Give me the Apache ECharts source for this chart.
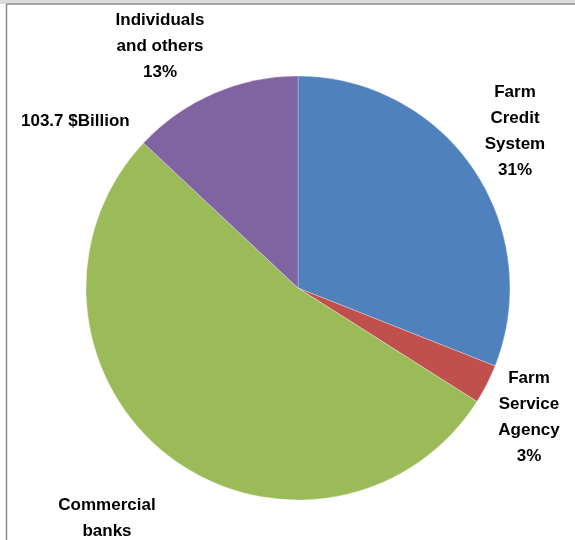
<!DOCTYPE html>
<html>
<head>
<meta charset="utf-8">
<script src="https://cdn.jsdelivr.net/npm/echarts@6/dist/echarts.min.js"></script>
<style>html,body{margin:0;padding:0;background:#fff}#c{width:575px;height:540px}</style>
</head>
<body>
<div id="c"></div>
<script>
const categories = ['Farm\nCredit\nSystem', 'Farm\nService\nAgency', 'Commercial\nbanks', 'Individuals\nand others'];
const shares = [31, 3, 53, 13];
const colors = ['#4F81BD', '#C0504D', '#9BBB59', '#8064A2'];
const totalLabel = '103.7 $Billion';
const labelSpots = [[515, 79], [529, 365], [107, 492], [160, 7]];

const chart = echarts.init(document.getElementById('c'));
chart.setOption({
  animation: false,
  title: {
    text: totalLabel, left: 16, top: 108,
    textStyle: { fontFamily: 'Liberation Sans', fontWeight: 'bold', fontSize: 17, color: '#000' }
  },
  graphic: [
    { type: 'rect', shape: { x: 0, y: 0, width: 575, height: 4 }, style: { fill: '#dcdcdc' }, silent: true },
    { type: 'line', shape: { x1: 6.5, y1: 4, x2: 575, y2: 4 }, style: { stroke: '#8a8a8a', lineWidth: 1.5 }, silent: true },
    { type: 'line', shape: { x1: 6.5, y1: 4, x2: 6.5, y2: 540 }, style: { stroke: '#8a8a8a', lineWidth: 1.5 }, silent: true }
  ],
  series: [{
    type: 'pie',
    center: [298, 288],
    radius: 212,
    startAngle: 90,
    clockwise: true,
    data: categories.map((n, i) => ({ name: n, value: shares[i], itemStyle: { color: colors[i] } })),
    itemStyle: { borderColor: 'rgba(255,255,255,0.6)', borderWidth: 0.5 },
    label: {
      show: true,
      position: 'outside',
      formatter: p => p.name + '\n' + Math.round(p.percent) + '%',
      fontFamily: 'Liberation Sans', fontWeight: 'bold', fontSize: 17, color: '#000',
      lineHeight: 26, align: 'center', overflow: 'none', width: 200
    },
    labelLine: { show: false },
    labelLayout: p => ({ x: labelSpots[p.dataIndex][0], y: labelSpots[p.dataIndex][1], align: 'center', verticalAlign: 'top' })
  }]
});
</script>
</body>
</html>
